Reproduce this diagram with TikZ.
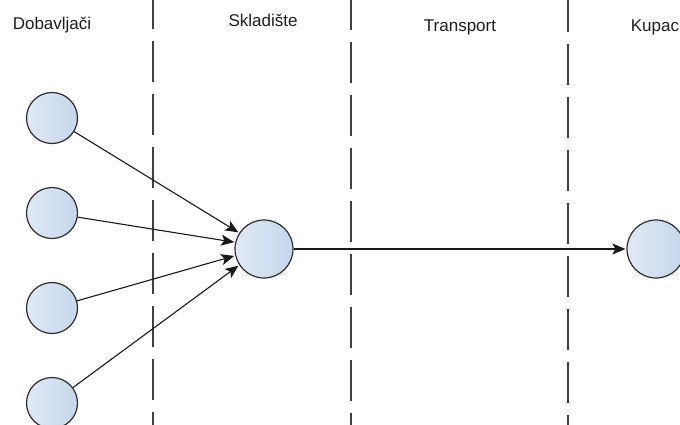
\documentclass[tikz,border=0pt]{standalone}
\usepackage{fontspec}
\setmainfont{Liberation Sans}
\usetikzlibrary{arrows.meta}
\definecolor{cLight}{HTML}{E0E9F5}
\definecolor{cDark}{HTML}{C6D6EB}
\definecolor{cEdge}{HTML}{2E2E2E}
\definecolor{cLane}{HTML}{404040}
\definecolor{cText}{HTML}{1E1E1E}
\tikzset{
  ent/.style={circle, draw=cEdge, line width=1.2pt, left color=cLight, right color=cDark, inner sep=0pt},
  small/.style={ent, minimum size=51pt},
  big/.style={ent, minimum size=58pt},
  lane/.style={draw=cLane, line width=1.4pt, dash pattern=on 41pt off 12pt},
  flow/.style={draw=black!90, line width=1.1pt, -{Stealth[length=13pt,width=11pt,inset=3pt]}, shorten >=1pt},
  lbl/.style={font=\fontsize{17}{20}\selectfont, text=cText, inner sep=0pt, anchor=base}
}
\begin{document}
\begin{tikzpicture}[x=1pt,y=-1pt]
\useasboundingbox (0,0) rectangle (680,424);
\clip (0,0) rectangle (680,424);
\fill[white] (0,0) rectangle (680,424);
% lanes
\coordinate (la1) at (153,-12); \coordinate (lb1) at (153,430);
\coordinate (la2) at (351,-11); \coordinate (lb2) at (351,430);
\coordinate (la3) at (568,-9);  \coordinate (lb3) at (568,430);
\draw[lane] (la1) -- (lb1);
\draw[lane] (la2) -- (lb2);
\draw[lane] (la3) -- (lb3);
% labels
\node[lbl] (t1) at (52,29) {Dobavljači};
\node[lbl] (t2) at (263,26) {Skladište};
\node[lbl] (t3) at (460,31) {Transport};
\node[lbl] (t4) at (655,31) {Kupac};
% nodes
\node[small] (s1) at (52,118) {};
\node[small] (s2) at (52,213) {};
\node[small] (s3) at (52,308) {};
\node[small] (s4) at (52,403) {};
\node[big] (w) at (264,249) {};
\node[big] (k) at (656,249) {};
% flows
\draw[flow] (s1) -- (w.147);
\draw[flow] (s2) -- (w.167);
\draw[flow] (s3) -- (w.193);
\draw[flow] (s4) -- (w.213);
\draw[flow] (w) -- (k);
\end{tikzpicture}
\end{document}
